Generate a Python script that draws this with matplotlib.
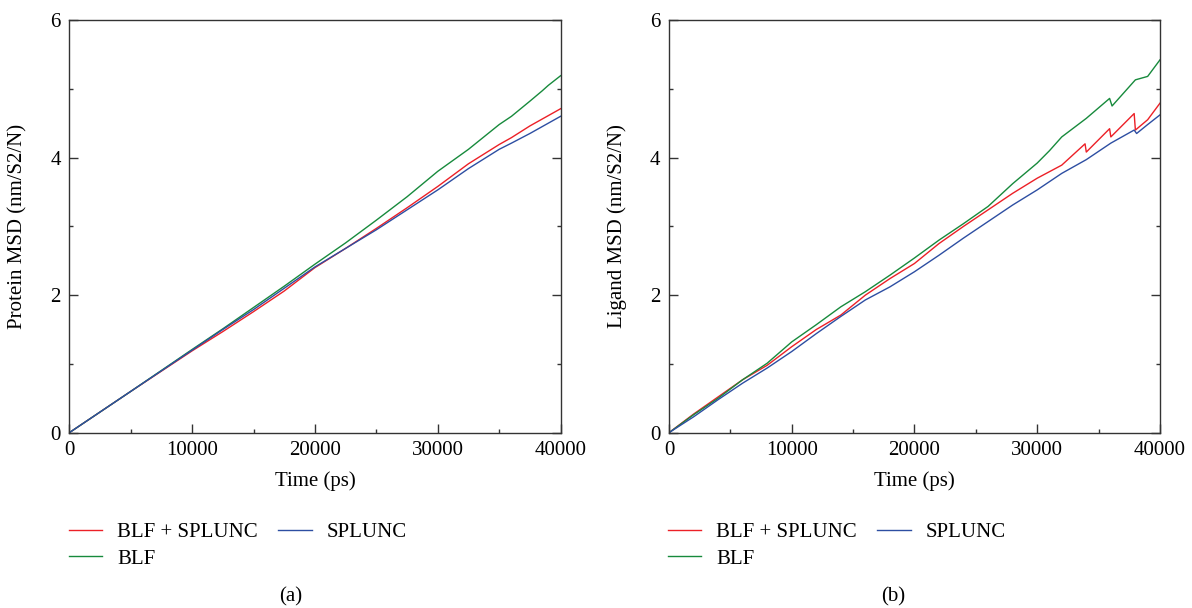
import matplotlib

matplotlib.use("Agg")
import matplotlib.pyplot as plt
from matplotlib.ticker import MultipleLocator

plt.rcParams["font.family"] = ["Liberation Serif", "DejaVu Serif"]
plt.rcParams["font.size"] = 15

# Protein MSD (panel a)
protein_time = [0, 5000, 10000, 12500, 15000, 17500, 20000, 22500, 25000, 27500,
                30000, 32500, 35000, 36000, 37500, 38500, 39000, 40000]
protein_blf_splunc = [0, 0.60, 1.19, 1.47, 1.76, 2.06, 2.40, 2.68, 2.97, 3.27,
                      3.58, 3.91, 4.19, 4.29, 4.46, 4.56, 4.61, 4.71]
protein_blf = [0, 0.60, 1.21, 1.51, 1.82, 2.13, 2.45, 2.76, 3.09, 3.43,
               3.80, 4.12, 4.48, 4.60, 4.82, 4.97, 5.05, 5.19]
protein_splunc = [0, 0.60, 1.20, 1.50, 1.79, 2.10, 2.41, 2.68, 2.95, 3.24,
                  3.53, 3.84, 4.12, 4.21, 4.35, 4.45, 4.50, 4.60]

# Ligand MSD (panel b)
ligand_time_red = [0, 2000, 4000, 6000, 8000, 10000, 12000, 14000, 16000, 18000,
                   20000, 22000, 24000, 26000, 28000, 30000, 32000, 33900, 34000,
                   35900, 36000, 37900, 38000, 39000, 40000]
ligand_blf_splunc = [0, 0.27, 0.52, 0.77, 0.98, 1.25, 1.50, 1.71, 2.00, 2.24,
                     2.46, 2.75, 3.00, 3.24, 3.48, 3.70, 3.89, 4.20, 4.08,
                     4.42, 4.30, 4.64, 4.40, 4.55, 4.79]
ligand_time_green = [0, 2000, 4000, 6000, 8000, 10000, 12000, 14000, 16000, 18000,
                     20000, 22000, 24000, 26000, 28000, 30000, 31000, 32000, 34000,
                     35900, 36100, 38000, 39000, 40000]
ligand_blf = [0, 0.26, 0.50, 0.77, 1.01, 1.32, 1.57, 1.83, 2.05, 2.29,
              2.54, 2.80, 3.04, 3.29, 3.62, 3.92, 4.10, 4.30, 4.57,
              4.86, 4.75, 5.13, 5.18, 5.42]
ligand_time_blue = [0, 2000, 4000, 6000, 8000, 10000, 12000, 14000, 16000, 18000,
                    20000, 22000, 24000, 26000, 28000, 30000, 32000, 34000, 36000,
                    37900, 38100, 39000, 40000]
ligand_splunc = [0, 0.23, 0.48, 0.72, 0.94, 1.18, 1.44, 1.69, 1.93, 2.12,
                 2.34, 2.58, 2.83, 3.07, 3.31, 3.53, 3.77, 3.97, 4.21,
                 4.40, 4.35, 4.48, 4.62]

RED = "#ec2027"
GREEN = "#178a3c"
BLUE = "#2d4ea2"
SPINE = "#333333"


def _style_axis(ax, ylabel):
    ax.set_xlim(0, 40000)
    ax.set_ylim(0, 6)
    ax.xaxis.set_major_locator(MultipleLocator(10000))
    ax.xaxis.set_minor_locator(MultipleLocator(5000))
    ax.yaxis.set_major_locator(MultipleLocator(2))
    ax.yaxis.set_minor_locator(MultipleLocator(1))
    ax.tick_params(which="both", direction="in", top=False, right=True,
                   color=SPINE, width=1.0, pad=6)
    ax.tick_params(which="major", length=6.3)
    ax.tick_params(which="minor", length=3.1)
    for spine in ax.spines.values():
        spine.set_color(SPINE)
        spine.set_linewidth(1.0)
    ax.set_xlabel("Time (ps)", labelpad=8)
    ax.set_ylabel(ylabel)
    ax.yaxis.set_label_coords(-0.085, 0.5)


fig = plt.figure(figsize=(11.92, 6.08), dpi=100)
ax_a = fig.add_axes([0.0581, 0.2883, 0.4122, 0.6788])
ax_b = fig.add_axes([0.5612, 0.2883, 0.4119, 0.6788])

lw = 1.0
ax_a.plot(protein_time, protein_blf_splunc, color=RED, lw=lw, label="BLF + SPLUNC")
ax_a.plot(protein_time, protein_blf, color=GREEN, lw=lw, label="BLF")
ax_a.plot(protein_time, protein_splunc, color=BLUE, lw=lw, label="SPLUNC")
_style_axis(ax_a, "Protein MSD (nm/S2/N)")

ax_b.plot(ligand_time_red, ligand_blf_splunc, color=RED, lw=lw, label="BLF + SPLUNC")
ax_b.plot(ligand_time_green, ligand_blf, color=GREEN, lw=lw, label="BLF")
ax_b.plot(ligand_time_blue, ligand_splunc, color=BLUE, lw=lw, label="SPLUNC")
_style_axis(ax_b, "Ligand MSD (nm/S2/N)")

for ax, x0 in ((ax_a, 0.0579), (ax_b, 0.5604)):
    ax.legend(loc="upper left", bbox_to_anchor=(x0, 0.141), bbox_transform=fig.transFigure,
              ncol=2, frameon=False, borderpad=0, borderaxespad=0, handlelength=1.6,
              handletextpad=0.7, columnspacing=1.0, labelspacing=0.35)

fig.text(0.244, 0.018, "(a)", ha="center", va="center")
fig.text(0.749, 0.018, "(b)", ha="center", va="center")

fig.savefig("out.png", dpi=100)
